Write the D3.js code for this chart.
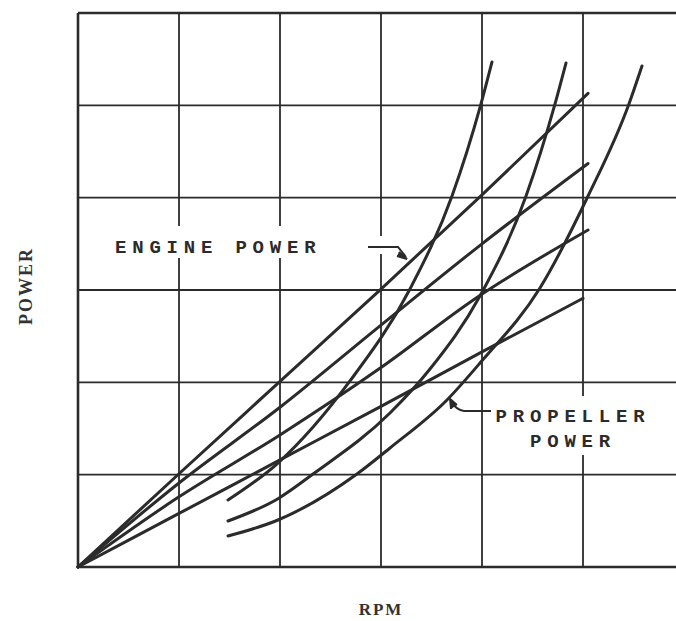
<!DOCTYPE html>
<html>
<head>
<meta charset="utf-8">
<script src="https://cdn.jsdelivr.net/npm/d3@7/dist/d3.min.js"></script>
<style>
  html, body { margin: 0; padding: 0; background: #ffffff; }
  svg { display: block; }
</style>
</head>
<body>
<svg id="chart" width="676" height="621"></svg>
<script>
// ---- data (grid units: RPM divisions, POWER divisions) ----
const xGridTicks = [0, 1, 2, 3, 4, 5, 6];
const yGridTicks = [0, 1, 2, 3, 4, 5, 6];

const enginePower1 = [[0,0],[1,1.01],[2,2.01],[3,3.01],[4,4.03],[5.05,5.13]];
const enginePower2 = [[0,0],[1,0.91],[2,1.73],[3,2.62],[4,3.5],[5.05,4.37]];
const enginePower3 = [[0,0],[1,0.76],[2,1.43],[3,2.16],[3.95,2.92],[5.05,3.65]];
const enginePower4 = [[0,0],[1,0.58],[2,1.16],[3,1.74],[4,2.33],[5.0,2.91]];

const propellerPower1 = [[1.485,0.726],[1.98,1.126],[2.693,2.015],[3.287,3.011],[3.703,4.018],[3.99,5.015],[4.099,5.469]];
const propellerPower2 = [[1.485,0.498],[1.98,0.74],[2.327,1.007],[3.089,1.668],[3.485,2.144],[3.98,2.935],[4.436,4.018],[4.723,5.015],[4.832,5.459]];
const propellerPower3 = [[1.485,0.336],[1.98,0.509],[2.762,1.007],[3.089,1.289],[3.653,1.809],[3.98,2.209],[4.574,3.022],[5.05,4.018],[5.455,5.015],[5.584,5.426]];

const engineSeries = [enginePower1, enginePower2, enginePower3, enginePower4];
const propellerSeries = [propellerPower1, propellerPower2, propellerPower3];

const xLabel = "RPM";
const yLabel = "POWER";
const engineLabel = "ENGINE POWER";
const propellerLabel = ["PROPELLER", "POWER"];

// ---- layout ----
const svg = d3.select("#chart");
const x = d3.scaleLinear().domain([0, 6]).range([78, 684]);
const y = d3.scaleLinear().domain([0, 6]).range([567, 13]);
const ink = "#2b2b2b";

// grid
const grid = svg.append("g");
grid.selectAll("line.v").data(xGridTicks).join("line")
  .attr("x1", d => x(d)).attr("x2", d => x(d))
  .attr("y1", y(0)).attr("y2", y(6))
  .attr("stroke", ink)
  .attr("stroke-width", d => d === 0 ? 2.6 : 1.8);
grid.selectAll("line.h").data(yGridTicks).join("line")
  .attr("x1", x(0)).attr("x2", x(6))
  .attr("y1", d => y(d)).attr("y2", d => y(d))
  .attr("stroke", ink)
  .attr("stroke-width", d => (d === 0 || d === 6) ? 2.6 : 1.8);

// curves
const line = d3.line().x(d => x(d[0])).y(d => y(d[1])).curve(d3.curveMonotoneX);
const curves = svg.append("g").attr("fill", "none").attr("stroke", ink)
  .attr("stroke-width", 3).attr("stroke-linecap", "round");
curves.selectAll("path.e").data(engineSeries).join("path").attr("d", line);
curves.selectAll("path.p").data(propellerSeries).join("path").attr("d", line);

// labels with white knockout boxes
const mono = "'Liberation Mono', 'DejaVu Sans Mono', monospace";
const serif = "'Liberation Serif', 'DejaVu Serif', serif";

svg.append("rect").attr("x", 108).attr("y", 226).attr("width", 222).attr("height", 32).attr("fill", "#fff");
svg.append("rect").attr("x", 364).attr("y", 236).attr("width", 30).attr("height", 18).attr("fill", "#fff");
svg.append("text").attr("x", 115).attr("y", 253)
  .attr("font-family", mono).attr("font-size", 19).attr("font-weight", "bold").attr("letter-spacing", 5.8)
  .attr("fill", ink).text(engineLabel);

svg.append("rect").attr("x", 488).attr("y", 396).attr("width", 166).attr("height", 33).attr("fill", "#fff");
svg.append("rect").attr("x", 520).attr("y", 429).attr("width", 102).attr("height", 26).attr("fill", "#fff");
svg.append("text").attr("x", 573).attr("y", 422).attr("text-anchor", "middle")
  .attr("font-family", mono).attr("font-size", 19).attr("font-weight", "bold").attr("letter-spacing", 5.8)
  .attr("fill", ink).text(propellerLabel[0]);
svg.append("text").attr("x", 573).attr("y", 447).attr("text-anchor", "middle")
  .attr("font-family", mono).attr("font-size", 19).attr("font-weight", "bold").attr("letter-spacing", 5.8)
  .attr("fill", ink).text(propellerLabel[1]);

// leader arrows
const arrows = svg.append("g").attr("fill", "none").attr("stroke", ink).attr("stroke-width", 2);
arrows.append("path").attr("d", "M368,247 L398,247 L406,257");
arrows.append("path").attr("d", "M399,252 L407,259 L397,256").attr("fill", ink);
arrows.append("path").attr("d", "M491,411 L464,411 Q456,410 451,401");
arrows.append("path").attr("d", "M451,409 L450,399 L457,405").attr("fill", ink);

// axis titles
svg.append("text").attr("x", 381).attr("y", 615).attr("text-anchor", "middle")
  .attr("font-family", serif).attr("font-size", 17).attr("font-weight", "bold").attr("letter-spacing", 2)
  .attr("fill", "#333").text(xLabel);
svg.append("text").attr("transform", "translate(32,286) rotate(-90)").attr("text-anchor", "middle")
  .attr("font-family", serif).attr("font-size", 18).attr("font-weight", "bold").attr("letter-spacing", 2)
  .attr("fill", "#333").text(yLabel);
</script>
</body>
</html>
